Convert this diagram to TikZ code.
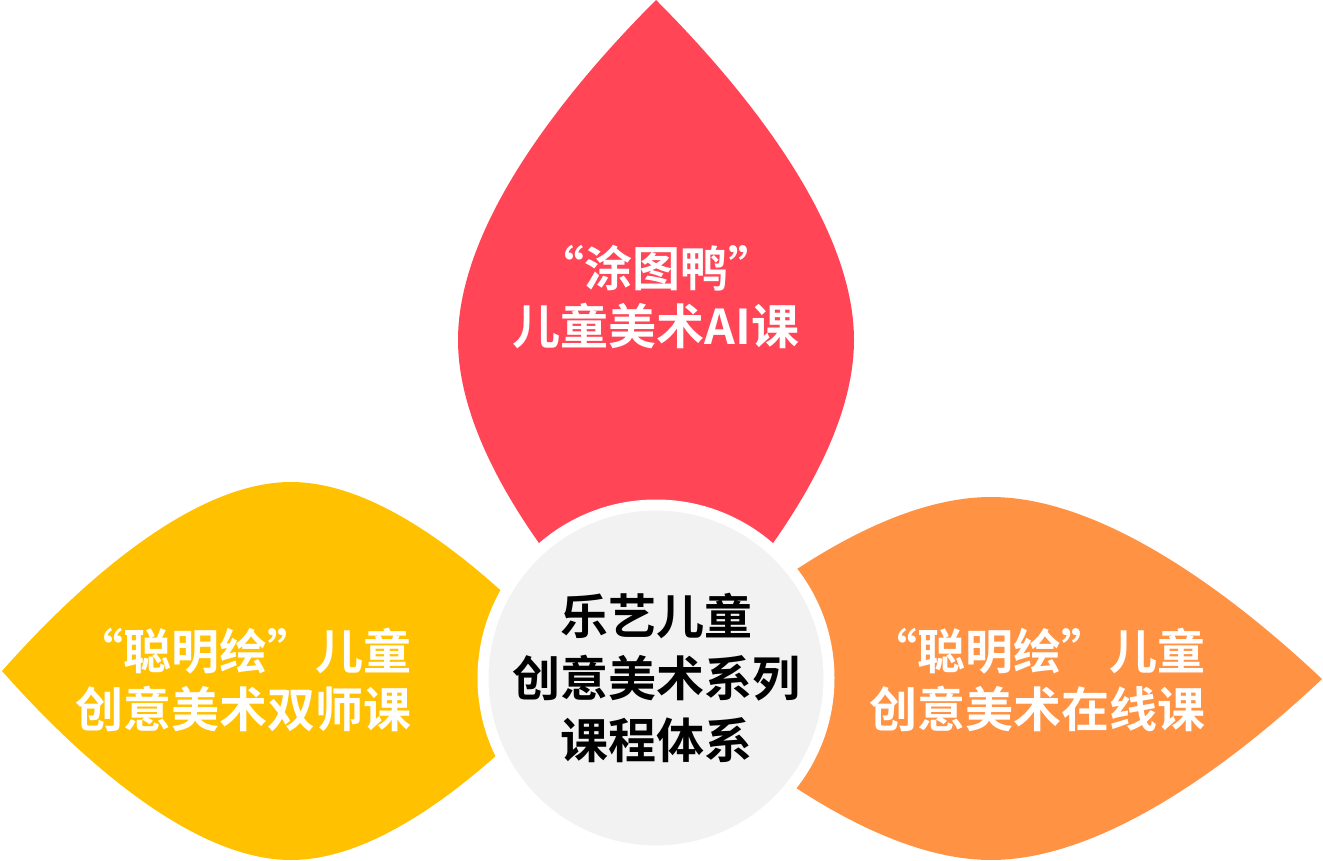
\documentclass[tikz,border=0pt]{standalone}
\usepackage{fontspec}
\newfontfamily\cjk{Noto Sans CJK SC Bold}
\definecolor{petalred}{RGB}{255,69,86}
\definecolor{petalyellow}{RGB}{255,193,0}
\definecolor{petalorange}{RGB}{255,147,67}
\definecolor{hubgray}{RGB}{242,242,242}
\begin{document}
\begin{tikzpicture}[x=1pt,y=-1pt,
  petaltext/.style={text=white,align=center,inner sep=0pt,font=\cjk\fontsize{48}{58}\selectfont},
  hubtext/.style={text=black,align=center,font=\cjk\fontsize{48}{62}\selectfont}]
\useasboundingbox (0,0) rectangle (1323,861);
% top red petal
\fill[petalred] (656,0) .. controls (748,92) and (854,225) .. (854,340)
  .. controls (854,455) and (748,588) .. (656,680)
  .. controls (564,588) and (458,455) .. (458,340)
  .. controls (458,225) and (564,92) .. (656,0) -- cycle;
% left yellow petal
\fill[petalyellow] (2,671) .. controls (80,583) and (193,482) .. (291,482)
  .. controls (389,482) and (502,583) .. (580,671)
  .. controls (502,759) and (389,860) .. (291,860)
  .. controls (193,860) and (80,759) .. (2,671) -- cycle;
% right orange petal
\fill[petalorange] (1322,679) .. controls (1233,595) and (1103,497) .. (991,497)
  .. controls (879,497) and (749,595) .. (660,679)
  .. controls (749,763) and (879,860) .. (991,860)
  .. controls (1103,860) and (1233,763) .. (1322,679) -- cycle;
% hub
\node (hub) [circle,fill=hubgray,draw=white,line width=11pt,minimum size=346pt,inner sep=0pt,hubtext] at (656,678) {乐艺儿童\\创意美术系列\\课程体系};
% labels
\node (redlabel) [petaltext] at (656,297) {“涂图鸭”\\儿童美术AI课};
\node (yellowlabel) [petaltext] at (243,680) {“聪明绘”儿童\\创意美术双师课};
\node (orangelabel) [petaltext] at (1037,680) {“聪明绘”儿童\\创意美术在线课};
\end{tikzpicture}
\end{document}
